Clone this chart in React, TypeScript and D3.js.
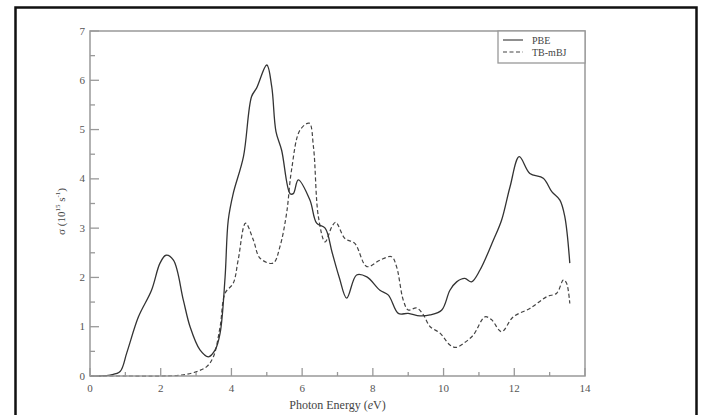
import * as d3 from "d3";
import { useEffect, useRef } from "react";

// photon energy (eV) / sigma (10^15 s^-1)
const pbeEnergy = [0, 0.3, 0.57, 0.85, 1.04, 1.37, 1.74, 1.98, 2.15, 2.36, 2.64, 2.83, 3.11, 3.35, 3.54, 3.68, 3.82, 3.91, 4.05, 4.34, 4.57, 4.71, 5.0, 5.14, 5.26, 5.42, 5.66, 5.75, 5.89, 6.22, 6.41, 6.65, 6.85, 7.05, 7.26, 7.54, 7.83, 8.2, 8.44, 8.72, 9.0, 9.33, 9.62, 9.95, 10.18, 10.37, 10.6, 10.79, 11.03, 11.41, 11.64, 11.88, 12.14, 12.44, 12.82, 13.06, 13.29, 13.43, 13.57];
const pbeSigma = [0, 0, 0.02, 0.09, 0.47, 1.2, 1.74, 2.29, 2.45, 2.35, 1.54, 1.0, 0.53, 0.39, 0.53, 0.87, 2.0, 3.16, 3.7, 4.45, 5.67, 5.84, 6.31, 5.87, 4.96, 4.58, 3.7, 3.7, 3.98, 3.57, 3.1, 3.0, 2.5, 2.0, 1.58, 2.05, 2.01, 1.74, 1.64, 1.27, 1.27, 1.22, 1.24, 1.34, 1.74, 1.91, 1.98, 1.91, 2.15, 2.76, 3.16, 3.84, 4.45, 4.11, 4.01, 3.74, 3.57, 3.23, 2.29];

const mbjEnergy = [0, 1.0, 2.0, 2.6, 3.02, 3.3, 3.49, 3.68, 3.82, 4.05, 4.19, 4.4, 4.62, 4.81, 5.18, 5.37, 5.56, 5.7, 5.94, 6.2, 6.32, 6.46, 6.65, 6.84, 6.95, 7.21, 7.49, 7.83, 8.2, 8.53, 8.67, 8.86, 9.0, 9.24, 9.43, 9.62, 9.9, 10.18, 10.35, 10.56, 10.84, 11.17, 11.36, 11.64, 11.97, 12.44, 12.92, 13.2, 13.39, 13.48, 13.57];
const mbjSigma = [0, 0, 0, 0.02, 0.09, 0.19, 0.39, 1.0, 1.68, 1.88, 2.35, 3.1, 2.76, 2.39, 2.29, 2.62, 3.3, 4.18, 4.99, 5.13, 4.65, 3.23, 2.72, 3.03, 3.12, 2.79, 2.69, 2.22, 2.35, 2.42, 2.22, 1.54, 1.34, 1.38, 1.24, 1.0, 0.87, 0.63, 0.58, 0.66, 0.83, 1.2, 1.14, 0.9, 1.2, 1.37, 1.61, 1.68, 1.95, 1.88, 1.47];

const xTicks = [0, 2, 4, 6, 8, 10, 12, 14];
const yTicks = [0, 1, 2, 3, 4, 5, 6, 7];

const W = 702;
const H = 415;
const M = { top: 31, right: 117, bottom: 39, left: 90 };
const SERIF = "'Liberation Serif', 'DejaVu Serif', serif";

export default function App() {
  const ref = useRef<SVGSVGElement>(null);

  useEffect(() => {
    const svg = d3.select(ref.current);
    svg.selectAll("*").remove();

    // outer frame
    svg
      .append("rect")
      .attr("x", 15.5)
      .attr("y", 7.5)
      .attr("width", 681)
      .attr("height", 420)
      .attr("fill", "none")
      .attr("stroke", "#111")
      .attr("stroke-width", 2.5);

    const iw = W - M.left - M.right;
    const ih = H - M.top - M.bottom - 0;
    const x = d3.scaleLinear().domain([0, 14]).range([0, iw]);
    const y = d3.scaleLinear().domain([0, 7]).range([ih, 0]);

    const g = svg.append("g").attr("transform", `translate(${M.left},${M.top})`);

    const line = d3
      .line<[number, number]>()
      .x((d) => x(d[0]))
      .y((d) => y(d[1]))
      .curve(d3.curveCatmullRom.alpha(0.5));

    const pbe = pbeEnergy.map((e, i) => [e, pbeSigma[i]] as [number, number]);
    const mbj = mbjEnergy.map((e, i) => [e, mbjSigma[i]] as [number, number]);

    g.append("path")
      .attr("d", line(mbj))
      .attr("fill", "none")
      .attr("stroke", "#444")
      .attr("stroke-width", 1.2)
      .attr("stroke-dasharray", "4,2.5");

    g.append("path")
      .attr("d", line(pbe))
      .attr("fill", "none")
      .attr("stroke", "#333")
      .attr("stroke-width", 1.3);

    // frame of the plot
    g.append("rect")
      .attr("width", iw)
      .attr("height", ih)
      .attr("fill", "none")
      .attr("stroke", "#999")
      .attr("stroke-width", 1.5);

    // x ticks (inside)
    const xAxis = g.append("g").attr("transform", `translate(0,${ih})`);
    xAxis
      .selectAll("line.minor")
      .data(d3.range(1, 14, 2))
      .join("line")
      .attr("x1", (d) => x(d))
      .attr("x2", (d) => x(d))
      .attr("y1", 0)
      .attr("y2", -4)
      .attr("stroke", "#999")
      .attr("stroke-width", 1.3);
    xAxis
      .selectAll("line.major")
      .data(xTicks)
      .join("line")
      .attr("x1", (d) => x(d))
      .attr("x2", (d) => x(d))
      .attr("y1", 0)
      .attr("y2", -8)
      .attr("stroke", "#999")
      .attr("stroke-width", 1.3);
    xAxis
      .selectAll("text")
      .data(xTicks)
      .join("text")
      .attr("x", (d) => x(d))
      .attr("y", 16)
      .attr("text-anchor", "middle")
      .attr("font-family", SERIF)
      .attr("font-size", 11)
      .attr("fill", "#555")
      .text((d) => d);

    // y ticks (inside)
    const yAxis = g.append("g");
    yAxis
      .selectAll("line.minor")
      .data(d3.range(0.5, 7, 1))
      .join("line")
      .attr("x1", 0)
      .attr("x2", 5)
      .attr("y1", (d) => y(d))
      .attr("y2", (d) => y(d))
      .attr("stroke", "#999")
      .attr("stroke-width", 1.3);
    yAxis
      .selectAll("line.major")
      .data(yTicks)
      .join("line")
      .attr("x1", 0)
      .attr("x2", 9)
      .attr("y1", (d) => y(d))
      .attr("y2", (d) => y(d))
      .attr("stroke", "#999")
      .attr("stroke-width", 1.3);
    yAxis
      .selectAll("text")
      .data(yTicks)
      .join("text")
      .attr("x", -5)
      .attr("y", (d) => y(d) + 3.5)
      .attr("text-anchor", "end")
      .attr("font-family", SERIF)
      .attr("font-size", 11)
      .attr("fill", "#555")
      .text((d) => d);

    // axis labels
    const xl = g
      .append("text")
      .attr("x", iw / 2)
      .attr("y", ih + 33)
      .attr("text-anchor", "middle")
      .attr("font-family", SERIF)
      .attr("font-size", 12)
      .attr("fill", "#444");
    xl.append("tspan").text("Photon Energy (");
    xl.append("tspan").attr("font-style", "italic").text("e");
    xl.append("tspan").text("V)");

    const yl = g
      .append("text")
      .attr("transform", `translate(-25,${ih / 2 + 8}) rotate(-90)`)
      .attr("text-anchor", "middle")
      .attr("font-family", SERIF)
      .attr("font-size", 11)
      .attr("fill", "#444");
    yl.append("tspan").text("σ (10");
    yl.append("tspan").attr("font-size", 7).attr("dy", -5).text("15");
    yl.append("tspan").attr("dy", 5).text(" s");
    yl.append("tspan").attr("font-size", 7).attr("dy", -5).text("-1");
    yl.append("tspan").attr("dy", 5).text(")");

    // legend
    const lg = g.append("g").attr("transform", `translate(${iw - 87},0)`);
    lg.append("rect")
      .attr("width", 87)
      .attr("height", 32)
      .attr("fill", "white")
      .attr("stroke", "#999")
      .attr("stroke-width", 1.3);
    const entries = [
      { name: "PBE", dash: null },
      { name: "TB-mBJ", dash: "4,2.5" },
    ];
    entries.forEach((e, i) => {
      const yy = 9 + i * 12;
      lg.append("line")
        .attr("x1", 5)
        .attr("x2", 25)
        .attr("y1", yy)
        .attr("y2", yy)
        .attr("stroke", "#444")
        .attr("stroke-width", 1.2)
        .attr("stroke-dasharray", e.dash);
      lg.append("text")
        .attr("x", 34)
        .attr("y", yy + 3.5)
        .attr("font-family", SERIF)
        .attr("font-size", 10)
        .attr("fill", "#444")
        .text(e.name);
    });
  }, []);

  return (
    <svg
      ref={ref}
      width={W}
      height={H}
      style={{ position: "absolute", left: 0, top: 0, background: "white" }}
    />
  );
}
